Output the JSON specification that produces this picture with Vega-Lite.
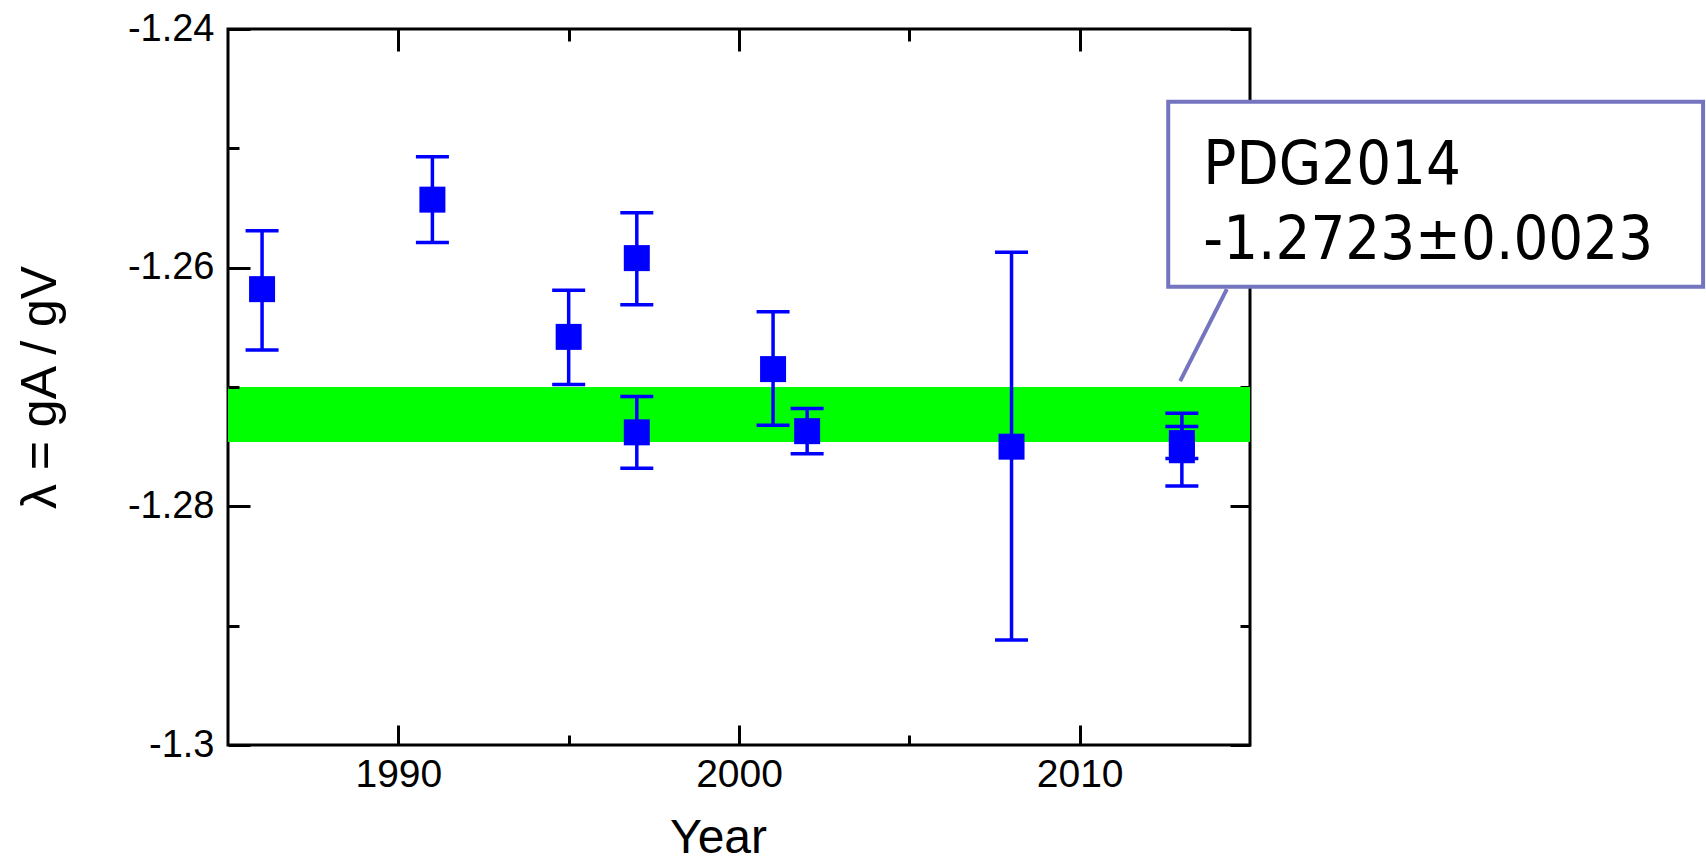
{
  "$schema": "https://vega.github.io/schema/vega-lite/v6.json",
  "width": 1022,
  "height": 716,
  "autosize": {"type": "none"},
  "padding": {"left": 228, "top": 29, "right": 456, "bottom": 118},
  "background": "white",
  "config": {
    "view": {"stroke": "black", "strokeWidth": 3},
    "axis": {"grid": false, "domain": false, "tickColor": "black", "tickWidth": 3, "labelColor": "black", "titleColor": "black", "titleFontWeight": "normal"}
  },
  "datasets": {
    "meas": [
      {"year": 1986, "value": -1.2618, "hi": -1.2569, "lo": -1.2669},
      {"year": 1991, "value": -1.2543, "hi": -1.2507, "lo": -1.2579},
      {"year": 1995, "value": -1.2658, "hi": -1.2619, "lo": -1.2698},
      {"year": 1997, "value": -1.2592, "hi": -1.2554, "lo": -1.2631},
      {"year": 1997, "value": -1.2738, "hi": -1.2708, "lo": -1.2768},
      {"year": 2001, "value": -1.2685, "hi": -1.2637, "lo": -1.2732},
      {"year": 2002, "value": -1.2737, "hi": -1.2718, "lo": -1.2756},
      {"year": 2008, "value": -1.2750, "hi": -1.2587, "lo": -1.2912},
      {"year": 2013, "value": -1.2753, "hi": -1.2722, "lo": -1.2783},
      {"year": 2013, "value": -1.2747, "hi": -1.2733, "lo": -1.2760}
    ],
    "pdg": [{"label": "PDG2014", "value": -1.2723, "hi": -1.2700, "lo": -1.2746}],
    "box": [{"x1": 2012.6, "x2": 2028.3, "y1": -1.2461, "y2": -1.2616}],
    "leader": [{"x": 2014.32, "y": -1.2618}, {"x": 2012.95, "y": -1.2695}],
    "note": [
      {"line": "PDG2014", "x": 2013.63, "y": -1.2530},
      {"line": "-1.2723±0.0023", "x": 2013.63, "y": -1.2593}
    ]
  },
  "resolve": {"axis": {"x": "independent", "y": "independent"}},
  "layer": [
    {
      "data": {"name": "pdg"},
      "mark": {"type": "rect", "color": "#00FF00"},
      "encoding": {
        "x": {"datum": 1985, "type": "quantitative",
          "scale": {"domain": [1985, 2015], "nice": false, "zero": false},
          "axis": {"orient": "bottom", "values": [1990, 2000, 2010], "tickSize": -20, "format": "d",
            "labelFont": "Liberation Sans", "labelFontSize": 39, "labelPadding": 30,
            "title": "Year", "titleFont": "Liberation Sans", "titleFontSize": 48, "titlePadding": 20, "titleX": 490, "zindex": 1}},
        "x2": {"datum": 2015},
        "y": {"field": "hi", "type": "quantitative",
          "scale": {"domain": [-1.3, -1.24], "nice": false, "zero": false},
          "axis": {"orient": "left", "values": [-1.3, -1.28, -1.26, -1.24], "tickSize": -22,
            "labelExpr": "'-' + format(abs(datum.value), '.2~f')",
            "labelFont": "Liberation Sans", "labelFontSize": 38, "labelPadding": 36,
            "title": "λ = gA / gV", "titleFont": "Liberation Sans", "titleFontSize": 50, "titlePadding": 62, "zindex": 1}},
        "y2": {"field": "lo"}
      }
    },
    {
      "data": {"name": "meas"},
      "mark": {"type": "rule", "color": "#0000FF", "strokeWidth": 3.5},
      "encoding": {
        "x": {"field": "year", "type": "quantitative",
          "scale": {"domain": [1985, 2015], "nice": false, "zero": false},
          "axis": {"orient": "bottom", "values": [1995, 2005], "tickSize": -10, "labels": false, "title": null, "zindex": 1}},
        "y": {"field": "hi", "type": "quantitative",
          "scale": {"domain": [-1.3, -1.24], "nice": false, "zero": false},
          "axis": {"orient": "left", "values": [-1.29, -1.27, -1.25], "tickSize": -11, "labels": false, "title": null, "zindex": 1}},
        "y2": {"field": "lo"}
      }
    },
    {
      "data": {"name": "meas"},
      "mark": {"type": "tick", "orient": "horizontal", "color": "#0000FF", "size": 33, "thickness": 3.5, "opacity": 1},
      "encoding": {
        "x": {"field": "year", "type": "quantitative",
          "scale": {"domain": [1985, 2015], "nice": false, "zero": false},
          "axis": {"orient": "top", "values": [1990, 2000, 2010], "tickSize": -22, "labels": false, "title": null}},
        "y": {"field": "hi", "type": "quantitative",
          "scale": {"domain": [-1.3, -1.24], "nice": false, "zero": false},
          "axis": {"orient": "right", "values": [-1.3, -1.28, -1.26, -1.24], "tickSize": -20, "labels": false, "title": null}}
      }
    },
    {
      "data": {"name": "meas"},
      "mark": {"type": "tick", "orient": "horizontal", "color": "#0000FF", "size": 33, "thickness": 3.5, "opacity": 1},
      "encoding": {
        "x": {"field": "year", "type": "quantitative",
          "scale": {"domain": [1985, 2015], "nice": false, "zero": false},
          "axis": {"orient": "top", "values": [1995, 2005], "tickSize": -12, "labels": false, "title": null}},
        "y": {"field": "lo", "type": "quantitative",
          "scale": {"domain": [-1.3, -1.24], "nice": false, "zero": false},
          "axis": {"orient": "right", "values": [-1.29, -1.27, -1.25], "tickSize": -10, "labels": false, "title": null}}
      }
    },
    {
      "data": {"name": "meas"},
      "mark": {"type": "square", "color": "#0000FF", "size": 676, "filled": true, "opacity": 1},
      "encoding": {
        "x": {"field": "year", "type": "quantitative", "scale": {"domain": [1985, 2015], "nice": false, "zero": false}, "axis": null},
        "y": {"field": "value", "type": "quantitative", "scale": {"domain": [-1.3, -1.24], "nice": false, "zero": false}, "axis": null}
      }
    },
    {
      "data": {"name": "box"},
      "mark": {"type": "rect", "fill": "white", "stroke": "#7474BF", "strokeWidth": 4},
      "encoding": {
        "x": {"field": "x1", "type": "quantitative", "scale": {"domain": [1985, 2015], "nice": false, "zero": false}, "axis": null},
        "x2": {"field": "x2"},
        "y": {"field": "y1", "type": "quantitative", "scale": {"domain": [-1.3, -1.24], "nice": false, "zero": false}, "axis": null},
        "y2": {"field": "y2"}
      }
    },
    {
      "data": {"name": "leader"},
      "mark": {"type": "line", "color": "#7474BF", "strokeWidth": 4},
      "encoding": {
        "x": {"field": "x", "type": "quantitative", "scale": {"domain": [1985, 2015], "nice": false, "zero": false}, "axis": null},
        "y": {"field": "y", "type": "quantitative", "scale": {"domain": [-1.3, -1.24], "nice": false, "zero": false}, "axis": null}
      }
    },
    {
      "data": {"name": "note"},
      "mark": {"type": "text", "align": "left", "baseline": "alphabetic", "font": "DejaVu Sans Condensed, DejaVu Sans", "fontSize": 61, "color": "black"},
      "encoding": {
        "x": {"field": "x", "type": "quantitative", "scale": {"domain": [1985, 2015], "nice": false, "zero": false}, "axis": null},
        "y": {"field": "y", "type": "quantitative", "scale": {"domain": [-1.3, -1.24], "nice": false, "zero": false}, "axis": null},
        "text": {"field": "line"}
      }
    }
  ]
}
